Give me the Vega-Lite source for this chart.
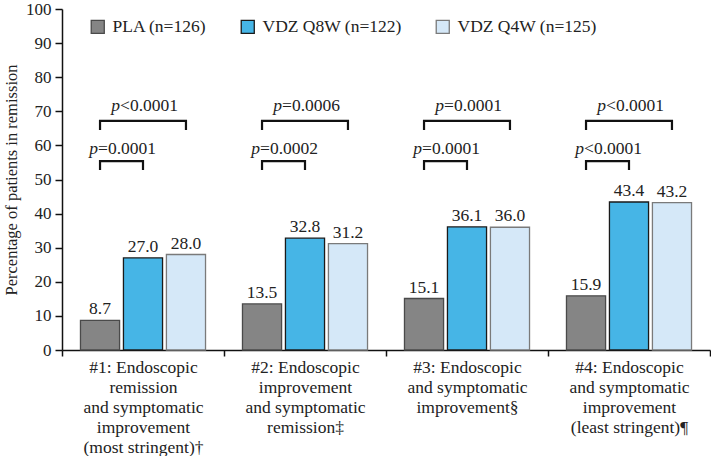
{
  "$schema": "https://vega.github.io/schema/vega-lite/v6.json",
  "width": 648,
  "height": 341,
  "autosize": {"type": "none"},
  "padding": {"left": 62, "top": 9, "right": 1, "bottom": 106},
  "background": "white",
  "config": {
    "font": "Liberation Serif",
    "view": {"stroke": null},
    "axis": {"labelFont": "Liberation Serif", "titleFont": "Liberation Serif", "labelColor": "#222", "titleColor": "#222", "domainColor": "#111", "tickColor": "#111", "domainWidth": 1.5, "tickWidth": 1.5},
    "legend": {"labelFont": "Liberation Serif"}
  },
  "datasets": {
    "bars": [
      {"cat": "#1: Endoscopic|remission|and symptomatic|improvement|(most stringent)†", "group": "PLA (n=126)", "value": 8.7, "label": "8.7"},
      {"cat": "#1: Endoscopic|remission|and symptomatic|improvement|(most stringent)†", "group": "VDZ Q8W (n=122)", "value": 27.0, "label": "27.0"},
      {"cat": "#1: Endoscopic|remission|and symptomatic|improvement|(most stringent)†", "group": "VDZ Q4W (n=125)", "value": 28.0, "label": "28.0"},
      {"cat": "#2: Endoscopic|improvement|and symptomatic|remission‡", "group": "PLA (n=126)", "value": 13.5, "label": "13.5"},
      {"cat": "#2: Endoscopic|improvement|and symptomatic|remission‡", "group": "VDZ Q8W (n=122)", "value": 32.8, "label": "32.8"},
      {"cat": "#2: Endoscopic|improvement|and symptomatic|remission‡", "group": "VDZ Q4W (n=125)", "value": 31.2, "label": "31.2"},
      {"cat": "#3: Endoscopic|and symptomatic|improvement§", "group": "PLA (n=126)", "value": 15.1, "label": "15.1"},
      {"cat": "#3: Endoscopic|and symptomatic|improvement§", "group": "VDZ Q8W (n=122)", "value": 36.1, "label": "36.1"},
      {"cat": "#3: Endoscopic|and symptomatic|improvement§", "group": "VDZ Q4W (n=125)", "value": 36.0, "label": "36.0"},
      {"cat": "#4: Endoscopic|and symptomatic|improvement|(least stringent)¶", "group": "PLA (n=126)", "value": 15.9, "label": "15.9"},
      {"cat": "#4: Endoscopic|and symptomatic|improvement|(least stringent)¶", "group": "VDZ Q8W (n=122)", "value": 43.4, "label": "43.4"},
      {"cat": "#4: Endoscopic|and symptomatic|improvement|(least stringent)¶", "group": "VDZ Q4W (n=125)", "value": 43.2, "label": "43.2"}
    ],
    "brackets": [
      {"cat": "#1: Endoscopic|remission|and symptomatic|improvement|(most stringent)†", "id": "1L", "seq": 1, "group": "PLA (n=126)", "value": 52.8},
      {"cat": "#1: Endoscopic|remission|and symptomatic|improvement|(most stringent)†", "id": "1L", "seq": 2, "group": "PLA (n=126)", "value": 55.4},
      {"cat": "#1: Endoscopic|remission|and symptomatic|improvement|(most stringent)†", "id": "1L", "seq": 3, "group": "VDZ Q8W (n=122)", "value": 55.4},
      {"cat": "#1: Endoscopic|remission|and symptomatic|improvement|(most stringent)†", "id": "1L", "seq": 4, "group": "VDZ Q8W (n=122)", "value": 52.8},
      {"cat": "#1: Endoscopic|remission|and symptomatic|improvement|(most stringent)†", "id": "1U", "seq": 1, "group": "PLA (n=126)", "value": 64.5},
      {"cat": "#1: Endoscopic|remission|and symptomatic|improvement|(most stringent)†", "id": "1U", "seq": 2, "group": "PLA (n=126)", "value": 67.2},
      {"cat": "#1: Endoscopic|remission|and symptomatic|improvement|(most stringent)†", "id": "1U", "seq": 3, "group": "VDZ Q4W (n=125)", "value": 67.2},
      {"cat": "#1: Endoscopic|remission|and symptomatic|improvement|(most stringent)†", "id": "1U", "seq": 4, "group": "VDZ Q4W (n=125)", "value": 64.5},
      {"cat": "#2: Endoscopic|improvement|and symptomatic|remission‡", "id": "2L", "seq": 1, "group": "PLA (n=126)", "value": 52.8},
      {"cat": "#2: Endoscopic|improvement|and symptomatic|remission‡", "id": "2L", "seq": 2, "group": "PLA (n=126)", "value": 55.4},
      {"cat": "#2: Endoscopic|improvement|and symptomatic|remission‡", "id": "2L", "seq": 3, "group": "VDZ Q8W (n=122)", "value": 55.4},
      {"cat": "#2: Endoscopic|improvement|and symptomatic|remission‡", "id": "2L", "seq": 4, "group": "VDZ Q8W (n=122)", "value": 52.8},
      {"cat": "#2: Endoscopic|improvement|and symptomatic|remission‡", "id": "2U", "seq": 1, "group": "PLA (n=126)", "value": 64.5},
      {"cat": "#2: Endoscopic|improvement|and symptomatic|remission‡", "id": "2U", "seq": 2, "group": "PLA (n=126)", "value": 67.2},
      {"cat": "#2: Endoscopic|improvement|and symptomatic|remission‡", "id": "2U", "seq": 3, "group": "VDZ Q4W (n=125)", "value": 67.2},
      {"cat": "#2: Endoscopic|improvement|and symptomatic|remission‡", "id": "2U", "seq": 4, "group": "VDZ Q4W (n=125)", "value": 64.5},
      {"cat": "#3: Endoscopic|and symptomatic|improvement§", "id": "3L", "seq": 1, "group": "PLA (n=126)", "value": 52.8},
      {"cat": "#3: Endoscopic|and symptomatic|improvement§", "id": "3L", "seq": 2, "group": "PLA (n=126)", "value": 55.4},
      {"cat": "#3: Endoscopic|and symptomatic|improvement§", "id": "3L", "seq": 3, "group": "VDZ Q8W (n=122)", "value": 55.4},
      {"cat": "#3: Endoscopic|and symptomatic|improvement§", "id": "3L", "seq": 4, "group": "VDZ Q8W (n=122)", "value": 52.8},
      {"cat": "#3: Endoscopic|and symptomatic|improvement§", "id": "3U", "seq": 1, "group": "PLA (n=126)", "value": 64.5},
      {"cat": "#3: Endoscopic|and symptomatic|improvement§", "id": "3U", "seq": 2, "group": "PLA (n=126)", "value": 67.2},
      {"cat": "#3: Endoscopic|and symptomatic|improvement§", "id": "3U", "seq": 3, "group": "VDZ Q4W (n=125)", "value": 67.2},
      {"cat": "#3: Endoscopic|and symptomatic|improvement§", "id": "3U", "seq": 4, "group": "VDZ Q4W (n=125)", "value": 64.5},
      {"cat": "#4: Endoscopic|and symptomatic|improvement|(least stringent)¶", "id": "4L", "seq": 1, "group": "PLA (n=126)", "value": 52.8},
      {"cat": "#4: Endoscopic|and symptomatic|improvement|(least stringent)¶", "id": "4L", "seq": 2, "group": "PLA (n=126)", "value": 55.4},
      {"cat": "#4: Endoscopic|and symptomatic|improvement|(least stringent)¶", "id": "4L", "seq": 3, "group": "VDZ Q8W (n=122)", "value": 55.4},
      {"cat": "#4: Endoscopic|and symptomatic|improvement|(least stringent)¶", "id": "4L", "seq": 4, "group": "VDZ Q8W (n=122)", "value": 52.8},
      {"cat": "#4: Endoscopic|and symptomatic|improvement|(least stringent)¶", "id": "4U", "seq": 1, "group": "PLA (n=126)", "value": 64.5},
      {"cat": "#4: Endoscopic|and symptomatic|improvement|(least stringent)¶", "id": "4U", "seq": 2, "group": "PLA (n=126)", "value": 67.2},
      {"cat": "#4: Endoscopic|and symptomatic|improvement|(least stringent)¶", "id": "4U", "seq": 3, "group": "VDZ Q4W (n=125)", "value": 67.2},
      {"cat": "#4: Endoscopic|and symptomatic|improvement|(least stringent)¶", "id": "4U", "seq": 4, "group": "VDZ Q4W (n=125)", "value": 64.5}
    ],
    "pvals": [
      {"cat": "#1: Endoscopic|remission|and symptomatic|improvement|(most stringent)†", "group": "PLA (n=126)", "level": "lower", "value": 57.5, "p": "p", "rest": "=0.0001"},
      {"cat": "#1: Endoscopic|remission|and symptomatic|improvement|(most stringent)†", "group": "PLA (n=126)", "level": "upper", "value": 70.1, "p": "p", "rest": "<0.0001"},
      {"cat": "#2: Endoscopic|improvement|and symptomatic|remission‡", "group": "PLA (n=126)", "level": "lower", "value": 57.5, "p": "p", "rest": "=0.0002"},
      {"cat": "#2: Endoscopic|improvement|and symptomatic|remission‡", "group": "PLA (n=126)", "level": "upper", "value": 70.1, "p": "p", "rest": "=0.0006"},
      {"cat": "#3: Endoscopic|and symptomatic|improvement§", "group": "PLA (n=126)", "level": "lower", "value": 57.5, "p": "p", "rest": "=0.0001"},
      {"cat": "#3: Endoscopic|and symptomatic|improvement§", "group": "PLA (n=126)", "level": "upper", "value": 70.1, "p": "p", "rest": "=0.0001"},
      {"cat": "#4: Endoscopic|and symptomatic|improvement|(least stringent)¶", "group": "PLA (n=126)", "level": "lower", "value": 57.5, "p": "p", "rest": "<0.0001"},
      {"cat": "#4: Endoscopic|and symptomatic|improvement|(least stringent)¶", "group": "PLA (n=126)", "level": "upper", "value": 70.1, "p": "p", "rest": "<0.0001"}
    ]
  },
  "encoding": {
    "x": {
      "field": "cat", "type": "nominal", "sort": null,
      "scale": {"paddingInner": 0, "paddingOuter": 0},
      "axis": {
        "title": null, "labelAngle": 0, "labelFontSize": 17.5, "labelLineHeight": 20,
        "labelExpr": "datum.value ? split(datum.value, '|') : ''", "labelPadding": 2, "labelBaseline": "top",
        "tickBand": "extent", "tickSize": 6, "labelLimit": 250
      }
    },
    "y": {
      "field": "value", "type": "quantitative",
      "scale": {"domain": [0, 100], "nice": false},
      "axis": {"title": "Percentage of patients in remission", "titleFontSize": 16.5, "titleFontWeight": "normal", "titlePadding": 6, "labelFontSize": 17, "values": [0, 10, 20, 30, 40, 50, 60, 70, 80, 90, 100], "grid": false, "tickSize": 7, "labelPadding": 4, "labelOverlap": false}
    }
  },
  "layer": [
    {
      "data": {"name": "bars"},
      "mark": {"type": "bar", "strokeWidth": 1.3},
      "encoding": {
        "xOffset": {"field": "group", "type": "nominal", "sort": null, "scale": {"paddingInner": 0.09, "paddingOuter": 0.43}},
        "fill": {
          "field": "group", "type": "nominal", "sort": null,
          "scale": {"domain": ["PLA (n=126)", "VDZ Q8W (n=122)", "VDZ Q4W (n=125)"], "range": ["#858585", "#46b5e6", "#d5e8f8"]},
          "legend": {"title": null, "orient": "none", "direction": "horizontal", "legendX": 27, "legendY": 9, "symbolType": "square", "symbolSize": 170, "symbolStrokeWidth": 1.3, "labelFontSize": 17.5, "columnPadding": 31, "labelOffset": 6, "labelColor": "#222"}
        },
        "stroke": {
          "field": "group", "type": "nominal", "sort": null,
          "scale": {"domain": ["PLA (n=126)", "VDZ Q8W (n=122)", "VDZ Q4W (n=125)"], "range": ["#4a4a4a", "#1a1a1a", "#7a7a7a"]},
          "legend": {"title": null, "orient": "none", "direction": "horizontal", "legendX": 27, "legendY": 9, "symbolType": "square", "symbolSize": 170, "symbolStrokeWidth": 1.3, "labelFontSize": 17.5, "columnPadding": 31, "labelOffset": 6, "labelColor": "#222"}
        }
      }
    },
    {
      "data": {"name": "bars"},
      "mark": {"type": "text", "baseline": "alphabetic", "dy": -6, "fontSize": 17.5, "color": "#222"},
      "encoding": {
        "xOffset": {"field": "group", "type": "nominal", "sort": null},
        "text": {"field": "label"}
      }
    },
    {
      "data": {"name": "brackets"},
      "mark": {"type": "line", "color": "#111", "strokeWidth": 2.2, "strokeJoin": "miter", "strokeCap": "butt"},
      "encoding": {
        "xOffset": {"field": "group", "type": "nominal", "sort": null},
        "detail": {"field": "id"},
        "order": {"field": "seq", "type": "quantitative"}
      }
    },
    {
      "data": {"name": "pvals"},
      "transform": [{"filter": "datum.level == 'lower'"}],
      "mark": {"type": "text", "align": "right", "baseline": "alphabetic", "dx": -2, "fontSize": 17.5, "fontStyle": "italic", "color": "#222"},
      "encoding": {
        "xOffset": {"field": "group", "type": "nominal", "sort": null},
        "text": {"field": "p"}
      }
    },
    {
      "data": {"name": "pvals"},
      "transform": [{"filter": "datum.level == 'lower'"}],
      "mark": {"type": "text", "align": "left", "baseline": "alphabetic", "dx": -2, "fontSize": 17.5, "color": "#222"},
      "encoding": {
        "xOffset": {"field": "group", "type": "nominal", "sort": null},
        "text": {"field": "rest"}
      }
    },
    {
      "data": {"name": "pvals"},
      "transform": [{"filter": "datum.level == 'upper'"}],
      "mark": {"type": "text", "align": "right", "baseline": "alphabetic", "dx": 20, "fontSize": 17.5, "fontStyle": "italic", "color": "#222"},
      "encoding": {
        "xOffset": {"field": "group", "type": "nominal", "sort": null},
        "text": {"field": "p"}
      }
    },
    {
      "data": {"name": "pvals"},
      "transform": [{"filter": "datum.level == 'upper'"}],
      "mark": {"type": "text", "align": "left", "baseline": "alphabetic", "dx": 20, "fontSize": 17.5, "color": "#222"},
      "encoding": {
        "xOffset": {"field": "group", "type": "nominal", "sort": null},
        "text": {"field": "rest"}
      }
    }
  ]
}
